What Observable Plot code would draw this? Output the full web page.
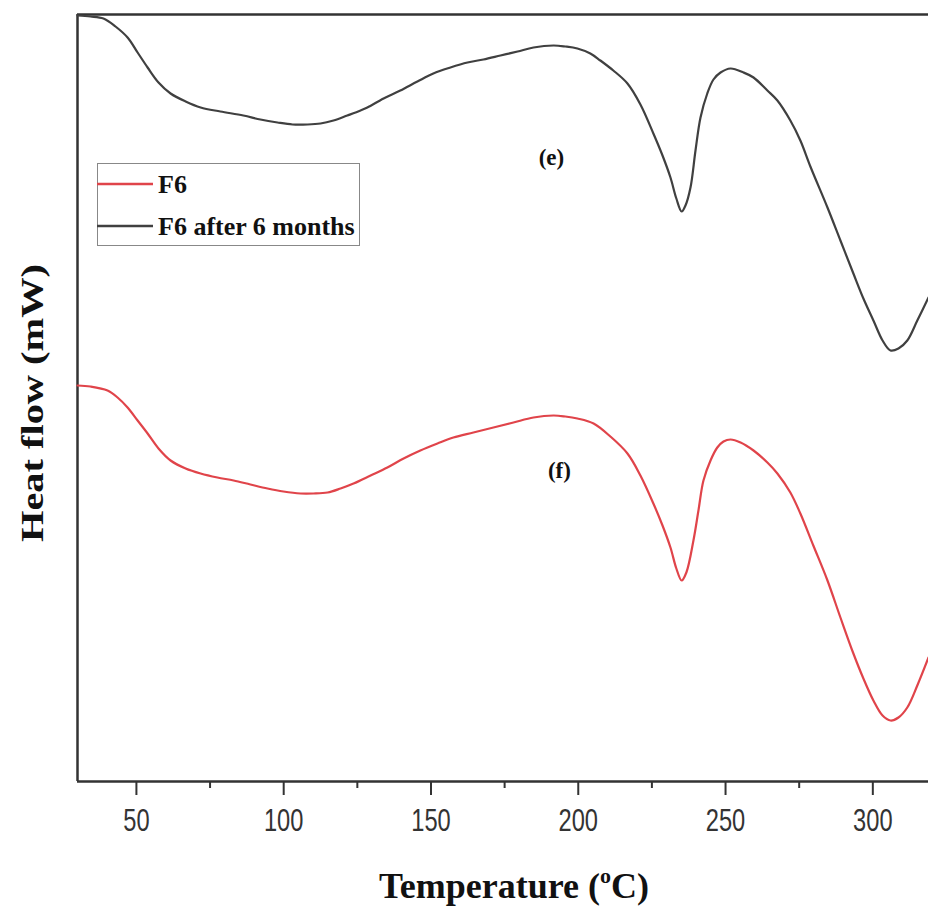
<!DOCTYPE html>
<html>
<head>
<meta charset="utf-8">
<script src="https://cdn.jsdelivr.net/npm/d3@7"></script>
<script src="https://cdn.jsdelivr.net/npm/@observablehq/plot@0.6"></script>
<style>
  html, body { margin: 0; padding: 0; background: #fff; }
  #chart svg { display: block; }
</style>
</head>
<body>
<div id="chart"></div>
<script>
// Temperature (°C) and heat flow (mW, arbitrary offset)
const tempAfter = [30.0,34.4,38.8,42.9,47.0,50.4,53.8,57.5,61.6,66.7,71.8,78.5,86.3,92.1,97.9,103.0,108.1,112.5,116.9,121.6,126.1,128.4,133.9,139.6,145.4,150.8,156.6,162.4,167.8,173.6,179.4,184.8,191.6,195.6,199.7,204.1,207.5,211.9,216.7,221.1,225.5,228.6,231.3,233.3,235.1,236.4,238.1,239.8,241.5,243.8,245.9,248.3,251.7,256.1,259.5,264.2,267.6,272.0,275.4,278.8,284.6,289.0,293.4,296.8,300.2,303.3,306.0,308.7,311.7,315.1,318.9];
const flowAfter = [7.66,7.65,7.63,7.55,7.44,7.29,7.14,6.99,6.88,6.80,6.74,6.70,6.66,6.62,6.59,6.57,6.57,6.58,6.61,6.66,6.71,6.74,6.83,6.91,7.00,7.08,7.14,7.19,7.22,7.26,7.30,7.34,7.36,7.35,7.33,7.28,7.21,7.11,6.98,6.77,6.48,6.26,6.04,5.83,5.70,5.76,5.94,6.31,6.64,6.88,7.02,7.09,7.13,7.09,7.04,6.91,6.81,6.61,6.41,6.15,5.74,5.41,5.08,4.83,4.61,4.41,4.31,4.33,4.41,4.61,4.84];

const tempF6 = [30.0,34.4,40.2,43.6,47.0,50.4,53.8,57.5,61.6,66.7,71.8,77.5,83.0,88.7,94.5,99.9,105.7,110.1,114.9,119.3,123.7,129.5,135.2,140.7,146.4,152.2,157.6,164.4,171.2,178.0,184.8,191.6,195.6,199.7,205.2,210.9,216.7,221.1,225.5,228.6,231.3,233.3,235.1,236.7,239.1,240.8,242.5,244.9,247.2,249.3,251.7,255.1,259.5,264.2,267.6,272.0,275.4,279.8,284.6,289.0,293.4,296.8,300.2,303.3,306.0,308.7,311.7,315.1,318.9];
const flowF6 = [3.96,3.95,3.91,3.84,3.74,3.61,3.48,3.33,3.21,3.13,3.08,3.04,3.01,2.97,2.93,2.90,2.88,2.88,2.89,2.93,2.98,3.06,3.14,3.23,3.31,3.38,3.44,3.49,3.54,3.59,3.64,3.66,3.65,3.63,3.58,3.45,3.28,3.06,2.78,2.56,2.34,2.13,2.01,2.09,2.41,2.71,3.01,3.21,3.34,3.40,3.42,3.39,3.31,3.19,3.08,2.89,2.68,2.36,2.01,1.64,1.28,1.03,0.81,0.66,0.61,0.64,0.74,0.96,1.24];

const seriesNames = ["F6", "F6 after 6 months"];
const seriesColors = ["#e0444a", "#404040"];
const majorTicks = [50, 100, 150, 200, 250, 300];
const minorTicks = [75, 125, 175, 225, 275];
const curveLabels = [
  {t: 190.9, v: 6.24, text: "(e)"},
  {t: 193.6, v: 3.11, text: "(f)"}
];
const xDomain = [30, 318.9];
const yDomain = [0, 7.67];

const after = tempAfter.map((t, i) => ({t, v: flowAfter[i]}));
const f6 = tempF6.map((t, i) => ({t, v: flowF6[i]}));

const axisColor = "#333";

const chart = Plot.plot({
  width: 928,
  height: 913,
  marginTop: 14,
  marginLeft: 77,
  marginRight: 0,
  marginBottom: 132,
  style: {background: "white", color: axisColor, overflow: "visible"},
  x: {domain: xDomain, label: null},
  y: {domain: yDomain, axis: null, label: null},
  marks: [
    Plot.axisX(majorTicks, {tickSize: 14, tickPadding: 13, fontSize: 32, fontFamily: "'Liberation Sans', Arial, sans-serif", label: null, strokeWidth: 2, tickFormat: d => String(d)}),
    Plot.axisX(minorTicks, {tickSize: 7, tickFormat: () => "", label: null, strokeWidth: 2}),
    Plot.ruleY([yDomain[0]], {stroke: axisColor, strokeWidth: 2.5}),
    Plot.ruleY([yDomain[1]], {stroke: axisColor, strokeWidth: 2.5}),
    Plot.ruleX([xDomain[0]], {stroke: axisColor, strokeWidth: 2.5}),
    Plot.line(after, {x: "t", y: "v", stroke: seriesColors[1], strokeWidth: 2.2, curve: "catmull-rom"}),
    Plot.line(f6, {x: "t", y: "v", stroke: seriesColors[0], strokeWidth: 2.2, curve: "catmull-rom"}),
    Plot.text(curveLabels, {x: "t", y: "v", text: "text", fontSize: 23, fontWeight: "bold", fontFamily: "'Liberation Serif', 'Times New Roman', serif", fill: "#111"})
  ]
});

document.getElementById("chart").appendChild(chart);

const svg = d3.select(chart);
const serif = "'Liberation Serif', 'Times New Roman', serif";

// condense the tick labels like the reference's narrow face
svg.selectAll('g[aria-label="x-axis tick label"] text').each(function() {
  const el = d3.select(this);
  const tr = el.attr("transform") || "";
  el.attr("transform", tr + " scale(0.74,1)");
});

// X axis label with superscript
const xl = svg.append("text")
  .attr("x", 514).attr("y", 898)
  .attr("text-anchor", "middle")
  .attr("font-family", serif).attr("font-weight", "bold").attr("font-size", 36)
  .attr("fill", "#111");
xl.append("tspan").text("Temperature (");
xl.append("tspan").attr("font-size", 22).attr("dy", -15).text("o");
xl.append("tspan").attr("dy", 15).text("C)");

// Y axis label
svg.append("text")
  .attr("transform", "translate(43,403) rotate(-90)")
  .attr("text-anchor", "middle")
  .attr("font-family", serif).attr("font-weight", "bold").attr("font-size", 31)
  .attr("textLength", 278).attr("lengthAdjust", "spacingAndGlyphs")
  .attr("fill", "#111")
  .text("Heat flow (mW)");

// Legend
const lg = svg.append("g");
lg.append("rect").attr("x", 97.5).attr("y", 163.5).attr("width", 262).attr("height", 82)
  .attr("fill", "white").attr("stroke", "#888").attr("stroke-width", 1);
const rowsY = [184, 226];
seriesNames.forEach((name, i) => {
  lg.append("line").attr("x1", 97).attr("x2", 153).attr("y1", rowsY[i]).attr("y2", rowsY[i])
    .attr("stroke", seriesColors[i]).attr("stroke-width", 2.5);
  lg.append("text").attr("x", 158).attr("y", rowsY[i] + 9)
    .attr("text-anchor", "start")
    .attr("font-family", serif).attr("font-weight", "bold").attr("font-size", 26)
    .attr("fill", "#111").text(name);
});
</script>
</body>
</html>
